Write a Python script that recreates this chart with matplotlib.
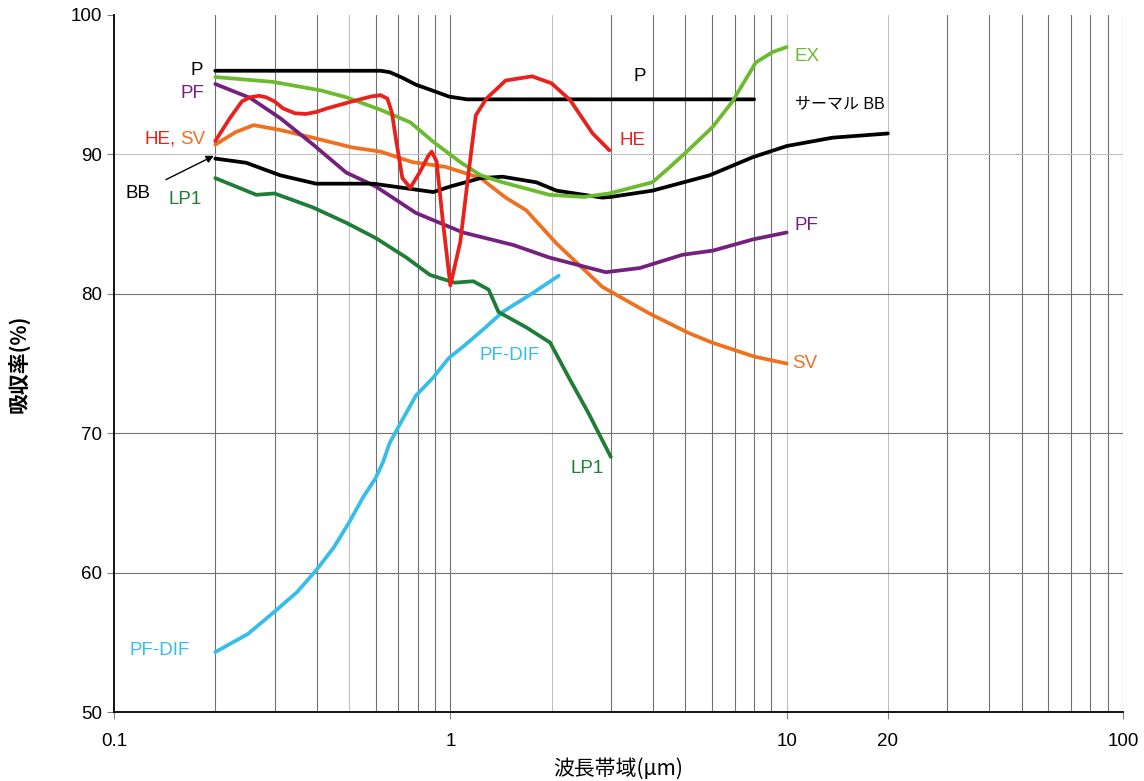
import matplotlib.pyplot as plt
from matplotlib.ticker import FixedLocator, NullFormatter

plt.rcParams['font.family'] = ['Liberation Sans', 'Noto Sans CJK JP', 'DejaVu Sans']

# wavelength (um) / absorptance (%)
p_x = [0.2, 0.62, 0.66, 0.72, 0.79, 0.88, 0.99, 1.12, 8.0]
p_y = [96.0, 96.0, 95.9, 95.5, 95.0, 94.6, 94.15, 93.95, 93.95]

bb_x = [0.2, 0.247, 0.312, 0.399, 0.59, 0.724, 0.89, 1.0, 1.23, 1.43, 1.80, 2.07, 2.83, 3.0, 3.99, 5.9, 7.93, 10, 13.7, 20]
bb_y = [89.7, 89.4, 88.5, 87.9, 87.9, 87.6, 87.3, 87.7, 88.3, 88.4, 88.0, 87.4, 86.9, 86.95, 87.4, 88.5, 89.8, 90.6, 91.2, 91.5]

ex_x = [0.2, 0.297, 0.41, 0.49, 0.62, 0.76, 0.89, 1.07, 1.23, 1.43, 1.97, 2.5, 2.97, 3.99, 4.5, 5.1, 6.04, 6.9, 8.1, 9.1, 10]
ex_y = [95.55, 95.2, 94.6, 94.1, 93.2, 92.3, 90.9, 89.45, 88.5, 88.0, 87.1, 86.95, 87.2, 88.0, 89.1, 90.3, 92.0, 93.8, 96.6, 97.35, 97.7]

pf_x = [0.2, 0.254, 0.312, 0.391, 0.49, 0.60, 0.79, 1.09, 1.54, 1.97, 2.9, 3.66, 4.9, 6.04, 7.93, 10]
pf_y = [95.05, 94.05, 92.6, 90.7, 88.7, 87.7, 85.8, 84.4, 83.5, 82.6, 81.55, 81.85, 82.8, 83.1, 83.9, 84.4]

sv_x = [0.2, 0.23, 0.26, 0.312, 0.39, 0.51, 0.62, 0.77, 0.97, 1.23, 1.46, 1.68, 2.07, 2.83, 3.9, 5.1, 6.0, 8.0, 10]
sv_y = [90.7, 91.6, 92.1, 91.75, 91.2, 90.5, 90.2, 89.45, 89.1, 88.3, 86.9, 86.0, 83.6, 80.5, 78.6, 77.2, 76.5, 75.5, 75.0]

he_x = [0.2, 0.221, 0.24, 0.254, 0.27, 0.283, 0.30, 0.318, 0.345, 0.372, 0.40, 0.43, 0.51, 0.58, 0.62, 0.65, 0.67,
        0.69, 0.72, 0.76, 0.81, 0.86, 0.88, 0.91, 0.95, 1.0, 1.07, 1.14, 1.19, 1.28, 1.46, 1.75, 2.0, 2.27, 2.65, 2.97]
he_y = [90.96, 92.6, 93.8, 94.1, 94.2, 94.1, 93.8, 93.3, 92.95, 92.9, 93.05, 93.3, 93.8, 94.15, 94.25, 94.0, 93.0,
        91.0, 88.3, 87.6, 88.7, 89.9, 90.2, 89.5, 85.2, 80.6, 83.7, 89.2, 92.8, 94.0, 95.3, 95.6, 95.1, 93.9, 91.5, 90.3]

lp1_x = [0.2, 0.265, 0.30, 0.39, 0.49, 0.60, 0.74, 0.87, 1.03, 1.17, 1.30, 1.39, 1.68, 1.98, 2.25, 2.58, 3.0]
lp1_y = [88.3, 87.1, 87.2, 86.2, 85.1, 84.0, 82.6, 81.35, 80.8, 80.9, 80.3, 78.7, 77.6, 76.5, 74.0, 71.4, 68.3]

dif_x = [0.2, 0.25, 0.30, 0.35, 0.40, 0.45, 0.50, 0.55, 0.60, 0.63, 0.66, 0.71, 0.79, 0.89, 0.99, 1.09, 1.26, 1.43, 1.77, 2.1]
dif_y = [54.3, 55.6, 57.2, 58.6, 60.2, 61.8, 63.6, 65.4, 66.8, 67.9, 69.3, 70.7, 72.7, 74.0, 75.4, 76.2, 77.5, 78.7, 80.1, 81.3]

x_ticks = [0.1, 1, 10, 20, 100]
x_tick_labels = ['0.1', '1', '10', '20', '100']
y_ticks = [50, 60, 70, 80, 90, 100]

c_black = '#000000'
c_ex = '#6cbb2f'
c_pf = '#74207e'
c_sv = '#ef7120'
c_he = '#e8211d'
c_lp1 = '#1e7d36'
c_dif = '#36bde9'

fig = plt.figure(figsize=(11.44, 7.81), dpi=100)
ax = fig.add_axes([0.0997, 0.0883, 0.8819, 0.8925])
ax.set_xscale('log')
ax.set_xlim(0.1, 100)
ax.set_ylim(50, 100)

# grid
minor = [m * d for d in (0.1, 1, 10) for m in range(2, 10)]
light = {0.5, 2, 20}
for v in minor:
    ax.axvline(v, color='#c0c0c0' if round(v, 3) in light else '#707070', lw=0.8, zorder=0)
ax.axvline(10, color='#c0c0c0', lw=0.8, zorder=0)
ax.axvline(1, color='#707070', lw=0.8, zorder=0)
for v in y_ticks[1:-1]:
    ax.axhline(v, color='#c0c0c0' if v == 90 else '#707070', lw=0.8, zorder=0)
ax.axvline(100, color='#707070', lw=0.8, zorder=0)

lw = 2.7
for xs, ys, c in [(dif_x, dif_y, c_dif), (lp1_x, lp1_y, c_lp1), (sv_x, sv_y, c_sv),
                  (pf_x, pf_y, c_pf), (bb_x, bb_y, c_black), (p_x, p_y, c_black),
                  (ex_x, ex_y, c_ex), (he_x, he_y, c_he)]:
    ax.plot(xs, ys, color=c, lw=lw, solid_capstyle='round', solid_joinstyle='round')

fs = 13.5
ax.text(0.184, 96.05, 'P', color=c_black, fontsize=fs, ha='right', va='center')
ax.text(0.186, 94.4, 'PF', color=c_pf, fontsize=fs, ha='right', va='center')
ax.text(0.1235, 91.1, 'HE,', color=c_he, fontsize=fs, ha='left', va='center')
ax.text(0.187, 91.1, 'SV', color=c_sv, fontsize=fs, ha='right', va='center')
ax.annotate('BB', xy=(0.198, 89.9), xytext=(0.118, 87.2), color=c_black, fontsize=fs,
            ha='center', va='center',
            arrowprops=dict(arrowstyle='-|>', color=c_black, lw=1.0, shrinkA=10, shrinkB=0,
                            mutation_scale=11))
ax.text(0.163, 86.75, 'LP1', color=c_lp1, fontsize=fs, ha='center', va='center')
ax.text(3.48, 91.0, 'HE', color=c_he, fontsize=fs, ha='center', va='center')
ax.text(3.65, 95.6, 'P', color=c_black, fontsize=fs, ha='center', va='center')
ax.text(10.55, 97.0, 'EX', color=c_ex, fontsize=fs, ha='left', va='center')
ax.text(10.6, 93.6, 'サーマル BB', color=c_black, fontsize=11.5, ha='left', va='center')
ax.text(10.55, 84.9, 'PF', color=c_pf, fontsize=fs, ha='left', va='center')
ax.text(10.35, 75.0, 'SV', color=c_sv, fontsize=fs, ha='left', va='center')
ax.text(1.5, 75.6, 'PF-DIF', color=c_dif, fontsize=fs, ha='center', va='center')
ax.text(2.55, 67.5, 'LP1', color=c_lp1, fontsize=fs, ha='center', va='center')
ax.text(0.137, 54.4, 'PF-DIF', color=c_dif, fontsize=fs, ha='center', va='center')

ax.xaxis.set_major_locator(FixedLocator(x_ticks))
ax.set_xticklabels(x_tick_labels)
ax.xaxis.set_minor_locator(FixedLocator(minor))
ax.xaxis.set_minor_formatter(NullFormatter())
ax.set_yticks(y_ticks)
ax.tick_params(axis='both', which='major', labelsize=13.5, length=5, width=0.8, color='#808080')
ax.tick_params(axis='x', which='minor', length=0)
ax.tick_params(axis='x', pad=10)

for s in ('top', 'right'):
    ax.spines[s].set_visible(False)
for s in ('left', 'bottom'):
    ax.spines[s].set_linewidth(1.3)

ax.set_xlabel('波長帯域(μm)', fontsize=15, family=['Noto Sans CJK JP', 'DejaVu Sans'], labelpad=6)
ax.set_ylabel('吸収率(%)', fontsize=15, fontweight='bold', family=['Noto Sans CJK JP', 'DejaVu Sans'], labelpad=30)

fig.savefig('out.png', dpi=100)
